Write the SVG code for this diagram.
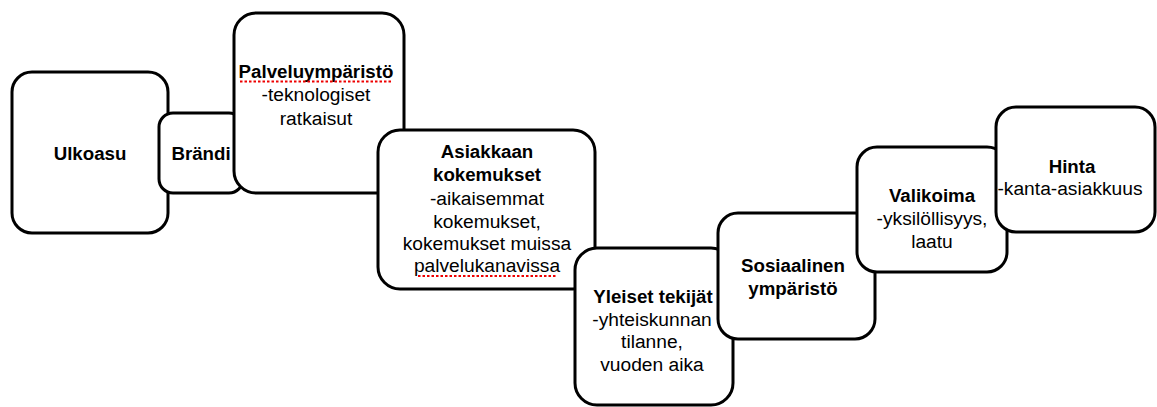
<svg xmlns="http://www.w3.org/2000/svg" width="1157" height="407" viewBox="0 0 1157 407">
<style>
.box{fill:#fff;stroke:#000;stroke-width:3}
text{font-family:"Liberation Sans",Arial,sans-serif;text-anchor:middle;fill:#000}
.b{font-weight:bold;font-size:18.7px}
.r{font-size:19.2px}
.sq{stroke:#e00;stroke-width:2;stroke-dasharray:2.5 2;fill:none}
</style>
<rect width="1157" height="407" fill="#fff"/>
<g id="connectors"></g>
<g id="ulkoasu">
<rect class="box" x="12" y="72" width="156" height="161" rx="20"/>
<text class="b" x="90" y="160">Ulkoasu</text>
</g>
<g id="brandi">
<rect class="box" x="159" y="113" width="84" height="80" rx="14"/>
<text class="b" x="201" y="160">Brändi</text>
</g>
<g id="palveluymparisto">
<rect class="box" x="234" y="13" width="170" height="180" rx="22"/>
<text class="b" x="316" y="78">Palveluympäristö</text>
<line class="sq" x1="240" y1="81.5" x2="393" y2="81.5"/>
<text class="r" x="316" y="101">-teknologiset</text>
<text class="r" x="316" y="125">ratkaisut</text>
</g>
<g id="asiakkaan-kokemukset">
<rect class="box" x="378" y="130" width="217" height="159" rx="22"/>
<text class="b" x="487" y="158">Asiakkaan</text>
<text class="b" x="487" y="181">kokemukset</text>
<text class="r" x="487" y="205">-aikaisemmat</text>
<text class="r" x="487" y="228">kokemukset,</text>
<text class="r" x="487" y="250">kokemukset muissa</text>
<text class="r" x="487" y="272">palvelukanavissa</text>
<line class="sq" x1="418" y1="276" x2="557" y2="276"/>
</g>
<g id="yleiset-tekijat">
<rect class="box" x="575" y="248" width="158" height="157" rx="22"/>
<text class="b" x="653" y="303">Yleiset tekijät</text>
<text class="r" x="652" y="326">-yhteiskunnan</text>
<text class="r" x="652" y="348">tilanne,</text>
<text class="r" x="652" y="371">vuoden aika</text>
</g>
<g id="sosiaalinen-ymparisto">
<rect class="box" x="718" y="213" width="157" height="126" rx="20"/>
<text class="b" x="793" y="272">Sosiaalinen</text>
<text class="b" x="793" y="295">ympäristö</text>
</g>
<g id="valikoima">
<rect class="box" x="857" y="147" width="150" height="125" rx="20"/>
<text class="b" x="932" y="202">Valikoima</text>
<text class="r" x="932" y="225">-yksilöllisyys,</text>
<text class="r" x="932" y="248">laatu</text>
</g>
<g id="hinta">
<rect class="box" x="996" y="107" width="159" height="125" rx="20"/>
<text class="b" x="1072" y="173">Hinta</text>
<text class="r" x="1070" y="195">-kanta-asiakkuus</text>
</g>
</svg>
